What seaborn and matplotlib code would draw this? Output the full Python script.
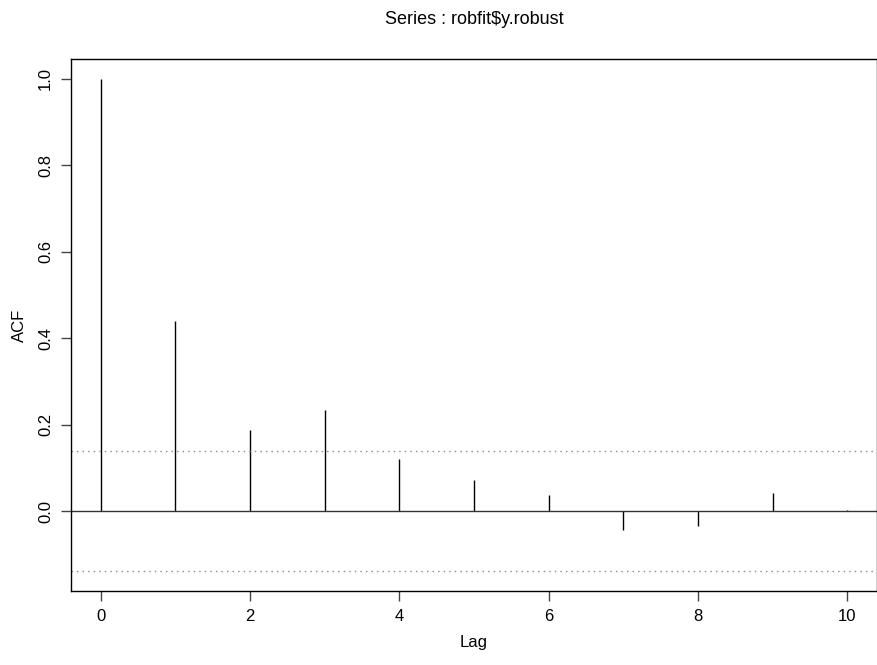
import numpy as np
import pandas as pd
import matplotlib
matplotlib.use("Agg")
import matplotlib.pyplot as plt
import seaborn as sns

# ACF values
lags = [0, 1, 2, 3, 4, 5, 6, 7, 8, 9, 10]
acf_vals = [1.0, 0.441, 0.187, 0.235, 0.122, 0.072, 0.037, -0.042, -0.035, 0.042, 0.002]
conf_level = 0.1386  # 1.96 / sqrt(n)

df = pd.DataFrame({"lag": lags, "acf": acf_vals})

sns.set_style("white", {"text.color": "black", "axes.labelcolor": "black",
                        "xtick.color": "black", "ytick.color": "black"})
plt.rcParams["font.family"] = ["Liberation Sans", "DejaVu Sans"]

fig = plt.figure(figsize=(8.78, 6.65), dpi=100)
ax = fig.add_axes([71 / 878, 74 / 665, 806 / 878, 532 / 665])

ax.vlines(df["lag"], 0, df["acf"], color="black", linewidth=1)
ax.axhline(0, color="#333333", linewidth=1)
for c in (conf_level, -conf_level):
    ax.axhline(c, color="#888888", linewidth=1, linestyle=(0, (1, 3)))

# R-style 4% padding
ax.set_xlim(-0.4, 10.4)
lo = min(df["acf"].min(), -conf_level)
span = 1.0 - lo
ax.set_ylim(lo - 0.04 * span, 1.0 + 0.04 * span)

ax.set_xticks([0, 2, 4, 6, 8, 10])
ax.set_yticks([0.0, 0.2, 0.4, 0.6, 0.8, 1.0])
ax.set_yticklabels(["0.0", "0.2", "0.4", "0.6", "0.8", "1.0"], rotation=90, va="center")
ax.tick_params(direction="out", length=7, width=1, color="#444444", labelcolor="black",
               labelsize=12, left=True, bottom=True, pad=6)

for s in ax.spines.values():
    s.set_color("black")
    s.set_linewidth(1)

ax.set_xlabel("Lag", fontsize=12, labelpad=8, color="black")
ax.set_ylabel("ACF", fontsize=12, labelpad=8, color="black")
fig.text(474 / 878, 1 - 20 / 665, "Series : robfit\\$y.robust", ha="center", va="center",
         fontsize=13, color="black")

fig.savefig("out.png", dpi=100)
